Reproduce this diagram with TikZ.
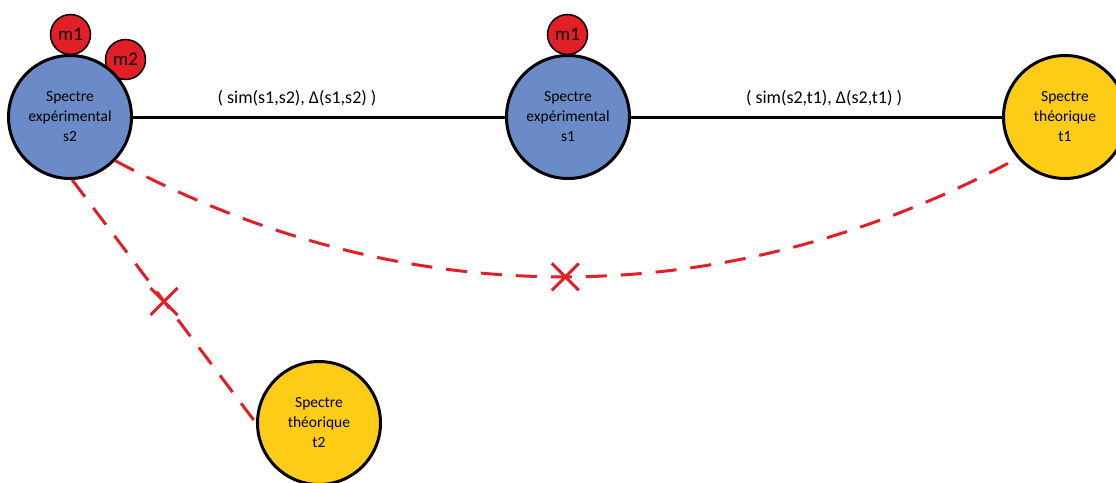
\documentclass[tikz,border=0pt]{standalone}
\usepackage{fontspec}
\setmainfont{Carlito}
\usetikzlibrary{shapes.misc}
\definecolor{cblue}{RGB}{106,139,199}
\definecolor{cyellow}{RGB}{253,204,22}
\definecolor{cred}{RGB}{226,30,38}
\tikzset{
  big/.style={circle, draw=black, line width=3pt, minimum size=123pt, inner sep=0pt, align=center, font=\fontsize{15.5}{20}\selectfont},
  expo/.style={big, fill=cblue},
  theo/.style={big, fill=cyellow},
  mass/.style={circle, draw=black, line width=1.5pt, fill=cred, minimum size=40pt, inner sep=0pt, font=\fontsize{19}{20}\selectfont},
  link/.style={line width=3pt, black},
  nolink/.style={line width=3pt, cred, dash pattern=on 21pt off 14pt},
  crossmark/.style={cross out, draw=cred, line width=3pt, minimum size=24pt, inner sep=0pt, solid},
  lab/.style={font=\fontsize{18}{20}\selectfont}
}
\begin{document}
\begin{tikzpicture}[x=1pt,y=-1pt]
\useasboundingbox (0,0) rectangle (1116,482);
\node[mass] (m1a) at (70.5,34.5) {m1};
\node[mass] (m2a) at (125.5,59.5) {m2};
\node[mass] (m1b) at (567.5,34.5) {m1};
\node[expo] (s2) at (70,117) {Spectre\\expérimental\\s2};
\node[expo] (s1) at (568,117) {Spectre\\expérimental\\s1};
\node[theo] (t1) at (1065,117) {Spectre\\théorique\\t1};
\node[theo] (t2) at (319,423) {Spectre\\théorique\\t2};
\draw[link] (s2) -- (s1);
\draw[link] (s1) -- (t1);
\node[lab] (l1) at (297,98) {( sim(s1,s2), Δ(s1,s2) )};
\node[lab] (l2) at (824,98) {( sim(s2,t1), Δ(s2,t1) )};
\draw[nolink] (s2.-44) .. controls (405,316) and (725,316) .. node[crossmark, pos=0.5] (x1) {} (t1.-139);
\draw[nolink] (s2.-88) -- node[crossmark, pos=0.5] (x2) {} (t2.180);
\end{tikzpicture}
\end{document}
